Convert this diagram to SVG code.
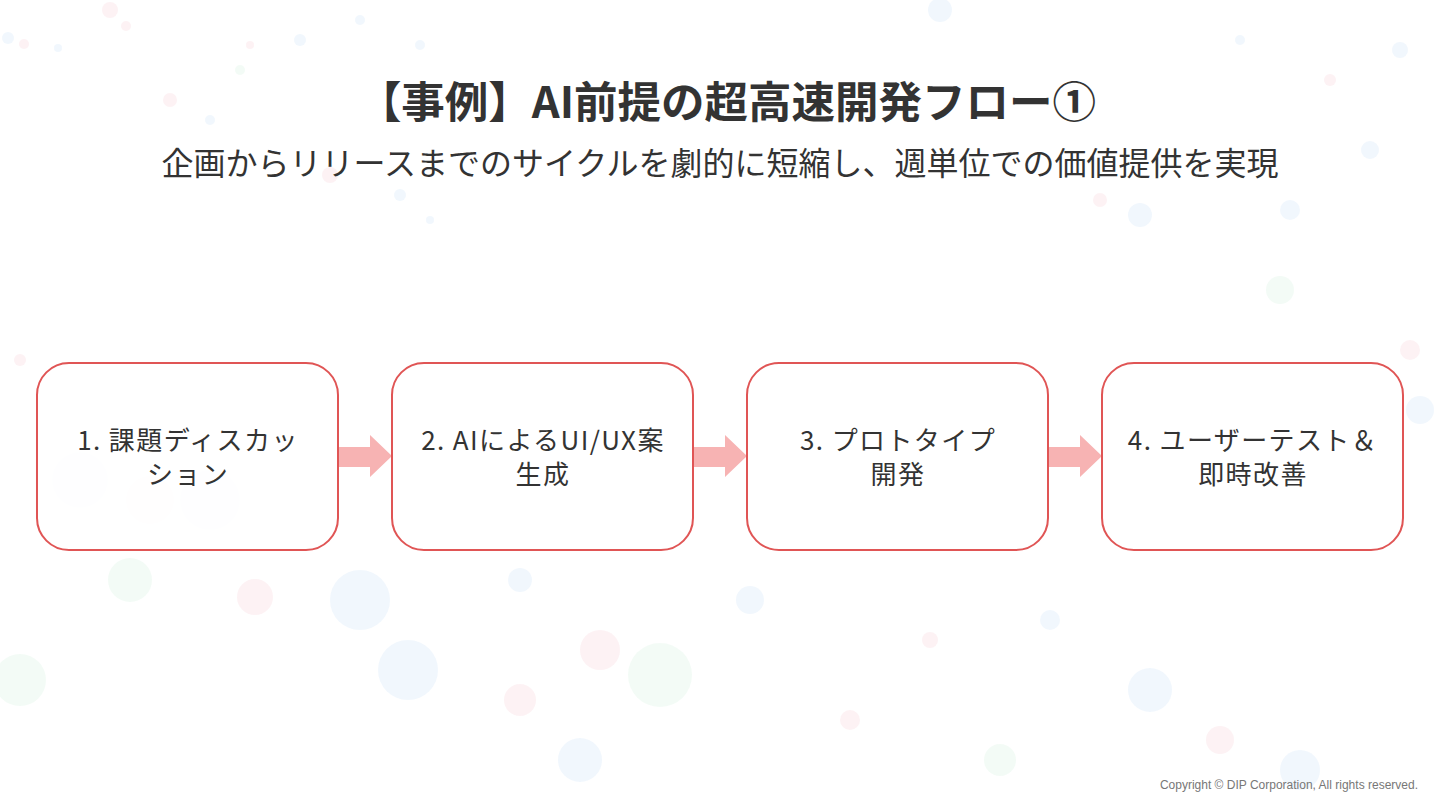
<svg xmlns="http://www.w3.org/2000/svg" width="1440" height="810" viewBox="0 0 1440 810">
<style>
.bg{fill:#ffffff}
.dr{fill:#f4a6b4;opacity:0.14}
.db{fill:#9fc3ef;opacity:0.14}
.dg{fill:#a8e3c0;opacity:0.14}
.title{font-family:"Noto Sans CJK JP","Noto Sans",sans-serif;font-weight:700;font-size:43.5px;fill:#333333;text-anchor:middle}
.sub{font-family:"Noto Sans CJK JP","Noto Sans",sans-serif;font-size:32px;fill:#333333;text-anchor:middle}
.box{fill:#ffffff;fill-opacity:0.88;stroke:#e05555;stroke-width:2}
.lbl{font-family:"Noto Sans CJK JP","Noto Sans",sans-serif;font-size:26px;letter-spacing:1.4px;fill:#333333;text-anchor:middle}
.arr{fill:#f7b3b3}
.copy{font-family:"Liberation Sans",Arial,sans-serif;font-size:12px;fill:#777777;text-anchor:end}
</style>
<rect class="bg" x="0" y="0" width="1440" height="810"/>
<g id="background">
<circle class="db" cx="8" cy="38" r="6"/><circle class="dr" cx="24" cy="44" r="5"/><circle class="db" cx="58" cy="48" r="4"/>
<circle class="dr" cx="110" cy="10" r="8"/><circle class="dr" cx="170" cy="100" r="7"/><circle class="dr" cx="126" cy="26" r="5"/>
<circle class="dg" cx="240" cy="70" r="5"/><circle class="db" cx="210" cy="120" r="5"/><circle class="db" cx="360" cy="20" r="5"/>
<circle class="dr" cx="250" cy="45" r="4"/><circle class="db" cx="300" cy="40" r="6"/><circle class="db" cx="420" cy="45" r="5"/>
<circle class="dr" cx="330" cy="175" r="8"/><circle class="db" cx="400" cy="195" r="6"/><circle class="db" cx="430" cy="220" r="4"/>
<circle class="db" cx="940" cy="10" r="12"/><circle class="db" cx="1140" cy="215" r="12"/><circle class="db" cx="1290" cy="210" r="10"/>
<circle class="dg" cx="1280" cy="290" r="14"/><circle class="dr" cx="1100" cy="200" r="7"/><circle class="db" cx="1370" cy="150" r="9"/>
<circle class="db" cx="1400" cy="50" r="8"/><circle class="dr" cx="1330" cy="80" r="6"/><circle class="db" cx="1240" cy="40" r="5"/>
<circle class="db" cx="80" cy="480" r="28"/><circle class="dr" cx="150" cy="500" r="24"/><circle class="db" cx="210" cy="500" r="30"/>
<circle class="dg" cx="130" cy="580" r="22"/><circle class="db" cx="360" cy="600" r="30"/><circle class="dr" cx="255" cy="597" r="18"/>
<circle class="db" cx="408" cy="670" r="30"/><circle class="dg" cx="660" cy="675" r="32"/><circle class="dr" cx="520" cy="700" r="16"/>
<circle class="db" cx="750" cy="600" r="14"/><circle class="dr" cx="600" cy="650" r="20"/><circle class="db" cx="520" cy="580" r="12"/>
<circle class="db" cx="580" cy="760" r="22"/><circle class="dr" cx="850" cy="720" r="10"/><circle class="dg" cx="1000" cy="760" r="16"/>
<circle class="db" cx="1150" cy="690" r="22"/><circle class="dr" cx="1220" cy="740" r="14"/><circle class="db" cx="1300" cy="770" r="20"/>
<circle class="dg" cx="20" cy="680" r="26"/><circle class="dr" cx="930" cy="640" r="8"/><circle class="db" cx="1050" cy="620" r="10"/>
<circle class="dr" cx="1410" cy="350" r="10"/><circle class="db" cx="1420" cy="410" r="14"/><circle class="dr" cx="20" cy="360" r="6"/>
</g>
<g id="header">
<text class="title" x="727" y="118">【事例】AI前提の超高速開発フロー①</text>
<text class="sub" x="720" y="175">企画からリリースまでのサイクルを劇的に短縮し、週単位での価値提供を実現</text>
</g>
<g id="connectors">
<path class="arr" d="M338 447 H370 V435 L392 456 L370 477 V467 H338 Z"/>
<path class="arr" d="M693 447 H725 V435 L747 456 L725 477 V467 H693 Z"/>
<path class="arr" d="M1048 447 H1080 V435 L1102 456 L1080 477 V467 H1048 Z"/>
</g>
<g id="node1">
<rect class="box" x="37" y="363" width="301" height="187" rx="32"/>
<text class="lbl" x="188" y="450">1. 課題ディスカッ</text>
<text class="lbl" x="188" y="484">ション</text>
</g>
<g id="node2">
<rect class="box" x="392" y="363" width="301" height="187" rx="32"/>
<text class="lbl" x="543" y="450">2. AIによるUI/UX案</text>
<text class="lbl" x="543" y="484">生成</text>
</g>
<g id="node3">
<rect class="box" x="747" y="363" width="301" height="187" rx="32"/>
<text class="lbl" x="898" y="450">3. プロトタイプ</text>
<text class="lbl" x="898" y="484">開発</text>
</g>
<g id="node4">
<rect class="box" x="1102" y="363" width="301" height="187" rx="32"/>
<text class="lbl" x="1253" y="450">4. ユーザーテスト＆</text>
<text class="lbl" x="1253" y="484">即時改善</text>
</g>
<text class="copy" x="1418" y="789">Copyright © DIP Corporation, All rights reserved.</text>
</svg>
